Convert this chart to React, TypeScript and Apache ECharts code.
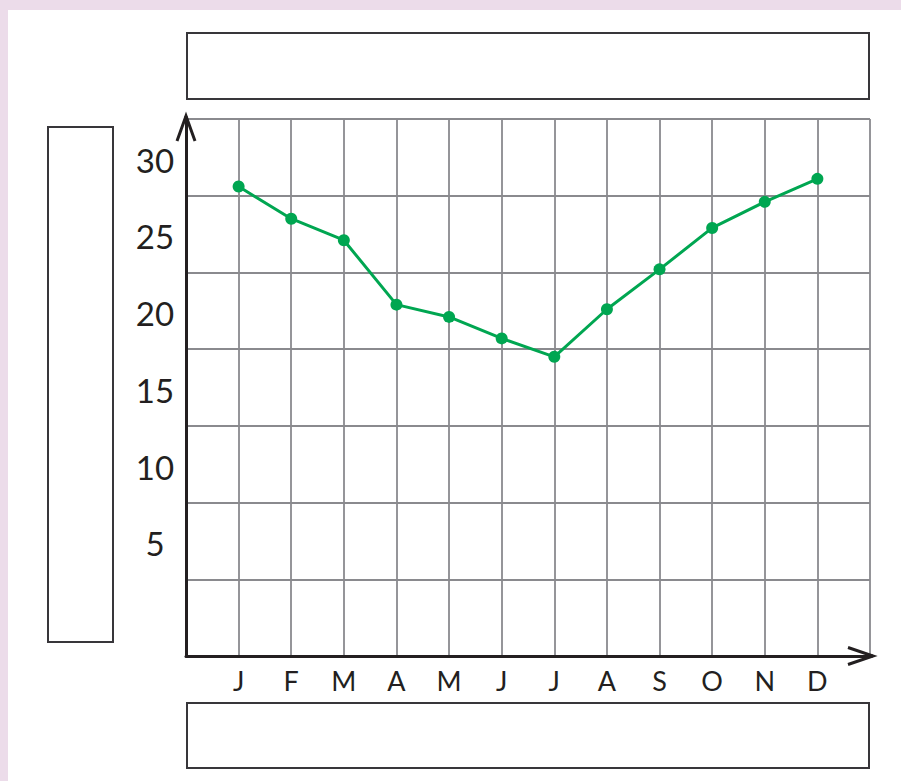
import React, { useEffect, useRef } from "react";
import * as echarts from "echarts";

const months = ["J", "F", "M", "A", "M", "J", "J", "A", "S", "O", "N", "D"];
const values = [30.6, 28.5, 27.1, 22.9, 22.1, 20.7, 19.5, 22.6, 25.2, 27.9, 29.6, 31.1];
const yTickLabels = ["5", "10", "15", "20", "25", "30"];

const W = 901;
const H = 781;
const GRID = { left: 186, top: 119, right: 31, bottom: 125 };
const INK = "#231f20";
const BOX = "#38363a";
const GRIDLINE = "#8a8a8e";
const GREEN = "#00a651";

export default function App() {
  const ref = useRef<HTMLDivElement>(null);
  useEffect(() => {
    if (!ref.current) return;
    const chart = echarts.init(ref.current, null, { renderer: "svg" });
    const axisX = GRID.left;
    const axisY = H - GRID.bottom;
    const rightX = W - GRID.right;
    const data = values.map((v, i) => [i + 1, v]);
    chart.setOption({
      animation: false,
      backgroundColor: "#ecdcea",
      grid: { ...GRID, containLabel: false },
      xAxis: {
        type: "value",
        min: 0,
        max: 13,
        interval: 1,
        axisLine: { show: true, onZero: false, lineStyle: { color: INK, width: 3 } },
        axisTick: { show: false },
        splitLine: { show: true, lineStyle: { color: GRIDLINE, width: 1.8 } },
        axisLabel: {
          show: true,
          margin: 11,
          fontSize: 27,
          color: INK,
          fontFamily: "Lato",
          formatter: (v: number) => (v >= 1 && v <= 12 ? months[v - 1] : ""),
        },
      },
      yAxis: {
        type: "value",
        min: 0,
        max: 35,
        interval: 5,
        axisLine: { show: true, onZero: false, lineStyle: { color: INK, width: 3 } },
        axisTick: { show: false },
        splitLine: { show: true, lineStyle: { color: GRIDLINE, width: 1.8 } },
        axisLabel: {
          show: true,
          margin: 31,
          align: "center",
          verticalAlign: "middle",
          lineHeight: 72,
          fontSize: 33,
          color: INK,
          fontFamily: "Lato",
          formatter: (v: number) => {
            const s = String(v);
            return yTickLabels.includes(s) ? s + "\n " : "";
          },
        },
      },
      series: [
        {
          type: "line",
          data,
          symbol: "circle",
          symbolSize: 12,
          lineStyle: { color: GREEN, width: 3 },
          itemStyle: { color: GREEN },
          z: 5,
        },
      ],
      graphic: [
        {
          type: "rect",
          shape: { x: 8, y: 10, width: W - 8, height: H - 10 },
          style: { fill: "#ffffff" },
          z: -10,
          silent: true,
        },
        {
          type: "rect",
          shape: { x: 187, y: 33, width: 682, height: 66 },
          style: { fill: "none", stroke: BOX, lineWidth: 2 },
        },
        {
          type: "rect",
          shape: { x: 48, y: 127, width: 65, height: 515 },
          style: { fill: "none", stroke: BOX, lineWidth: 2 },
        },
        {
          type: "rect",
          shape: { x: 187, y: 703, width: 682, height: 65 },
          style: { fill: "none", stroke: BOX, lineWidth: 2 },
        },
        {
          type: "polyline",
          shape: { points: [[axisX - 9, GRID.top + 22], [axisX, GRID.top - 3], [axisX + 9, GRID.top + 22]] },
          style: { stroke: INK, lineWidth: 3, fill: "none" },
          z: 10,
        },
        {
          type: "polyline",
          shape: { points: [[rightX - 22, axisY - 8.5], [rightX + 3, axisY], [rightX - 22, axisY + 8.5]] },
          style: { stroke: INK, lineWidth: 3, fill: "none" },
          z: 10,
        },
        {
          type: "line",
          shape: { x1: axisX, y1: GRID.top + 2, x2: axisX, y2: GRID.top - 3 },
          style: { stroke: INK, lineWidth: 3 },
          z: 10,
        },
        {
          type: "line",
          shape: { x1: rightX - 2, y1: axisY, x2: rightX + 3, y2: axisY },
          style: { stroke: INK, lineWidth: 3 },
          z: 10,
        },
      ],
    });
    return () => chart.dispose();
  }, []);
  return (
    <div
      ref={ref}
      style={{ position: "absolute", left: 0, top: 0, width: W, height: H }}
    />
  );
}
